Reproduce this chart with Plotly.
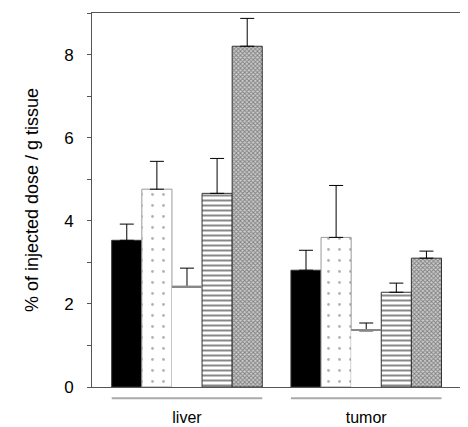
import plotly.graph_objects as go

groups = ["liver", "tumor"]
series_names = ["A", "B", "C", "D", "E"]
values = {
    "A": [3.53, 2.81],
    "B": [4.76, 3.60],
    "C": [2.40, 1.35],
    "D": [4.66, 2.28],
    "E": [8.20, 3.10],
}
errors = {
    "A": [0.39, 0.48],
    "B": [0.67, 1.25],
    "C": [0.46, 0.19],
    "D": [0.84, 0.22],
    "E": [0.67, 0.17],
}
y_ticks = [0, 2, 4, 6, 8]

styles = {
    "A": dict(color="black", pattern=None),
    "B": dict(color="white", pattern=dict(shape=".", fgcolor="#666", bgcolor="white", size=11, solidity=0.05)),
    "C": dict(color="white", pattern=None),
    "D": dict(color="white", pattern=dict(shape="-", fgcolor="#111", bgcolor="white", size=5, solidity=0.4)),
    "E": dict(color="#999", pattern=dict(shape="x", fgcolor="#333", bgcolor="#ccc", size=3, solidity=0.5)),
}

fig = go.Figure()
for s in series_names:
    st = styles[s]
    edge = "rgba(0,0,0,0)" if s == "C" else ("#999" if s == "B" else "#333")
    marker = dict(color=st["color"], line=dict(color=edge, width=0 if s == "C" else 1))
    if st["pattern"]:
        marker["pattern"] = st["pattern"]
    fig.add_trace(go.Bar(
        x=groups, y=values[s], name=s, offsetgroup=s,
        marker=marker,
        error_y=dict(type="data", symmetric=False, array=errors[s],
                     arrayminus=[0] * len(groups), color="black", thickness=1, width=7),
    ))

# top edge of the open bar C
fig.add_trace(go.Bar(
    x=groups, y=[0.04] * len(groups), base=values["C"], offsetgroup="C",
    marker=dict(color="#888", line=dict(width=0)), showlegend=False, hoverinfo="skip",
))

# gray underlines below each group
shapes = []
for i, g in enumerate(groups):
    shapes.append(dict(type="line", xref="x", yref="paper", x0=i - 0.42, x1=i + 0.42,
                       y0=-0.03, y1=-0.03, line=dict(color="#aaa", width=2)))

fig.update_layout(
    width=460, height=419,
    margin=dict(l=84, r=5, t=5, b=40, autoexpand=False),
    paper_bgcolor="white", plot_bgcolor="white",
    barmode="group", bargap=0.16, bargroupgap=0,
    showlegend=False,
    font=dict(family="Liberation Sans, Arial", size=15, color="black"),
    shapes=shapes,
)
fig.update_xaxes(
    range=[-0.53, 1.54], showline=True, mirror=True, linecolor="#555", linewidth=1,
    ticks="", showgrid=False, ticklabelstandoff=16, tickfont=dict(size=16), automargin=False,
)
fig.update_yaxes(
    range=[0, 9], tickvals=y_ticks, showline=True, mirror=False, linecolor="#555", linewidth=1,
    ticks="outside", ticklen=4, tickcolor="#555", showgrid=False, zeroline=False,
    minor=dict(dtick=1, ticks="outside", ticklen=4, tickcolor="#555"),
    ticklabelstandoff=10, tickfont=dict(size=17), automargin=False,
    title=dict(text="% of injected dose / g tissue", font=dict(size=18), standoff=20),
)

fig.write_html("out.html")
